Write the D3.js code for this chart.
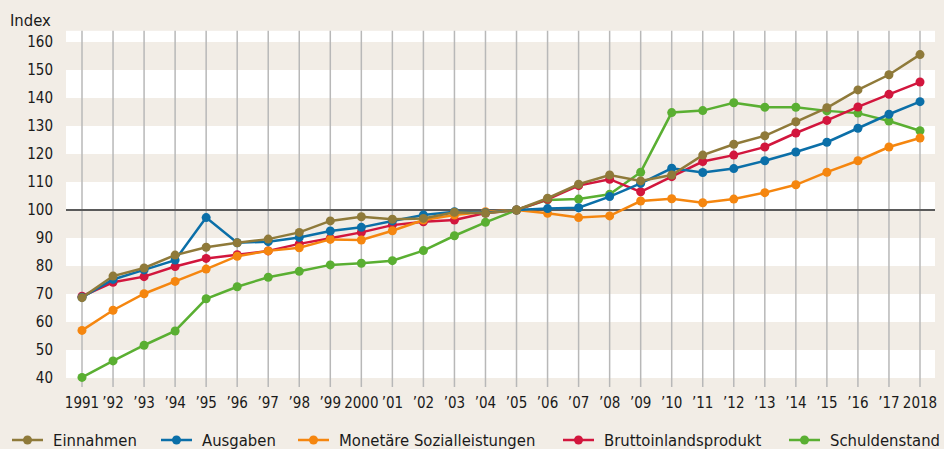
<!DOCTYPE html>
<html>
<head>
<meta charset="utf-8">
<script src="https://cdn.jsdelivr.net/npm/d3@7"></script>
<style>
  html, body { margin: 0; padding: 0; background: #f2ede6; }
  svg { display: block; font-family: "DejaVu Sans Condensed", "DejaVu Sans", sans-serif; }
</style>
</head>
<body>
<div id="chart"></div>
<script>
var years = d3.range(1991, 2019);
var yearLabels = ["1991", "’92", "’93", "’94", "’95", "’96", "’97", "’98", "’99", "2000",
    "’01", "’02", "’03", "’04", "’05", "’06", "’07", "’08", "’09", "’10",
    "’11", "’12", "’13", "’14", "’15", "’16", "’17", "2018"];
var yTicks = [40, 50, 60, 70, 80, 90, 100, 110, 120, 130, 140, 150, 160];

var einnahmen = [68.7, 76.4, 79.3, 83.9, 86.7, 88.3, 89.6, 92.0, 96.1, 97.6,
    96.7, 97.0, 99.2, 98.8, 100, 104.2, 109.2, 112.5, 110.4, 112.5,
    119.6, 123.5, 126.5, 131.5, 136.5, 142.9, 148.3, 155.5];
var ausgaben = [68.8, 75.2, 78.6, 82.1, 97.3, 88.3, 88.7, 90.2, 92.5, 93.8,
    96.1, 98.2, 99.4, 99.0, 100, 100.5, 100.8, 104.8, 109.5, 114.9,
    113.4, 114.8, 117.6, 120.7, 124.2, 129.2, 134.2, 138.7];
var sozial = [57.0, 64.2, 70.1, 74.5, 78.9, 83.5, 85.4, 86.5, 89.5, 89.3,
    92.6, 96.4, 98.2, 99.4, 100, 98.8, 97.3, 97.9, 103.2, 104.0,
    102.6, 103.9, 106.2, 109.0, 113.5, 117.6, 122.5, 125.7];
var bip = [69.2, 74.2, 76.2, 79.8, 82.7, 84.0, 85.4, 87.9, 89.9, 92.0,
    94.6, 95.8, 96.4, 98.9, 100, 103.8, 108.7, 111.0, 106.5, 111.9,
    117.3, 119.6, 122.5, 127.5, 132.0, 136.8, 141.3, 145.7];
var schulden = [40.2, 46.1, 51.7, 56.8, 68.3, 72.6, 76.0, 78.1, 80.4, 81.0,
    81.9, 85.5, 90.8, 95.6, 100, 103.6, 103.9, 105.6, 113.5, 134.8,
    135.5, 138.3, 136.7, 136.7, 135.4, 134.6, 131.8, 128.3];

var series = [
    {name: "Einnahmen", color: "#8f7a3a", values: einnahmen},
    {name: "Ausgaben", color: "#0b6fa8", values: ausgaben},
    {name: "Monetäre Sozialleistungen", color: "#f5860f", values: sozial},
    {name: "Bruttoinlandsprodukt", color: "#d2163d", values: bip},
    {name: "Schuldenstand", color: "#5aaf32", values: schulden}
];
var legendX = [12, 161, 298, 563, 789];

var width = 944, height = 449;
var plotLeft = 66, plotRight = 935;

var svg = d3.select("#chart").append("svg")
    .attr("width", width)
    .attr("height", height);

var x = d3.scaleLinear().domain([1991, 2018]).range([82, 920]);
var y = d3.scaleLinear().domain([40, 160]).range([378, 42]);

// plot background with bands
svg.append("rect")
    .attr("x", plotLeft).attr("y", y(164))
    .attr("width", plotRight - plotLeft).attr("height", y(40) - y(164))
    .attr("fill", "#ffffff");

svg.selectAll(".band")
    .data(d3.range(50, 160, 20))
    .enter().append("rect")
    .attr("class", "band")
    .attr("x", plotLeft)
    .attr("y", function(d) { return y(d + 10); })
    .attr("width", plotRight - plotLeft)
    .attr("height", function(d) { return y(d) - y(d + 10); })
    .attr("fill", "#f2ede6");

// vertical grid
svg.selectAll(".vgrid")
    .data(years)
    .enter().append("line")
    .attr("class", "vgrid")
    .attr("x1", function(d) { return x(d); })
    .attr("x2", function(d) { return x(d); })
    .attr("y1", y(164))
    .attr("y2", 387)
    .attr("stroke", "#b8b8b8")
    .attr("stroke-width", 1.5);

// 100 line
svg.append("line")
    .attr("x1", plotLeft).attr("x2", plotRight)
    .attr("y1", y(100)).attr("y2", y(100))
    .attr("stroke", "#5a5a5a")
    .attr("stroke-width", 2);

// y labels
svg.selectAll(".ylab")
    .data(yTicks)
    .enter().append("text")
    .attr("class", "ylab")
    .attr("x", 53)
    .attr("y", function(d) { return y(d); })
    .attr("dy", "0.36em")
    .attr("text-anchor", "end")
    .attr("font-size", 15)
    .attr("fill", "#1a1a1a")
    .text(function(d) { return d; });

svg.append("text")
    .attr("x", 10).attr("y", 20).attr("dy", "0.36em")
    .attr("font-size", 16.5)
    .attr("fill", "#1a1a1a")
    .text("Index");

// x labels
svg.selectAll(".xlab")
    .data(years)
    .enter().append("text")
    .attr("class", "xlab")
    .attr("x", function(d) { return x(d); })
    .attr("y", 403)
    .attr("dy", "0.36em")
    .attr("text-anchor", "middle")
    .attr("font-size", 15)
    .attr("fill", "#1a1a1a")
    .text(function(d, i) { return yearLabels[i]; });

// lines, drawn so that Einnahmen ends up on top
var line = d3.line()
    .x(function(d, i) { return x(years[i]); })
    .y(function(d) { return y(d); });

var drawOrder = series.slice().reverse();

var groups = svg.selectAll(".series")
    .data(drawOrder)
    .enter().append("g")
    .attr("class", "series");

groups.append("path")
    .attr("d", function(d) { return line(d.values); })
    .attr("fill", "none")
    .attr("stroke", function(d) { return d.color; })
    .attr("stroke-width", 2.5);

groups.each(function(s) {
    d3.select(this).selectAll("circle")
        .data(s.values)
        .enter().append("circle")
        .attr("cx", function(d, i) { return x(years[i]); })
        .attr("cy", function(d) { return y(d); })
        .attr("r", 4.5)
        .attr("fill", s.color);
});

// legend
var leg = svg.selectAll(".leg")
    .data(series)
    .enter().append("g")
    .attr("class", "leg")
    .attr("transform", function(d, i) { return "translate(" + legendX[i] + ",440)"; });

leg.append("line")
    .attr("x1", 0).attr("x2", 31)
    .attr("stroke", function(d) { return d.color; })
    .attr("stroke-width", 2.5);

leg.append("circle")
    .attr("cx", 15.5).attr("r", 4.5)
    .attr("fill", function(d) { return d.color; });

leg.append("text")
    .attr("x", 41)
    .attr("dy", "0.36em")
    .attr("font-size", 16.5)
    .attr("fill", "#1a1a1a")
    .text(function(d) { return d.name; });
</script>
</body>
</html>
